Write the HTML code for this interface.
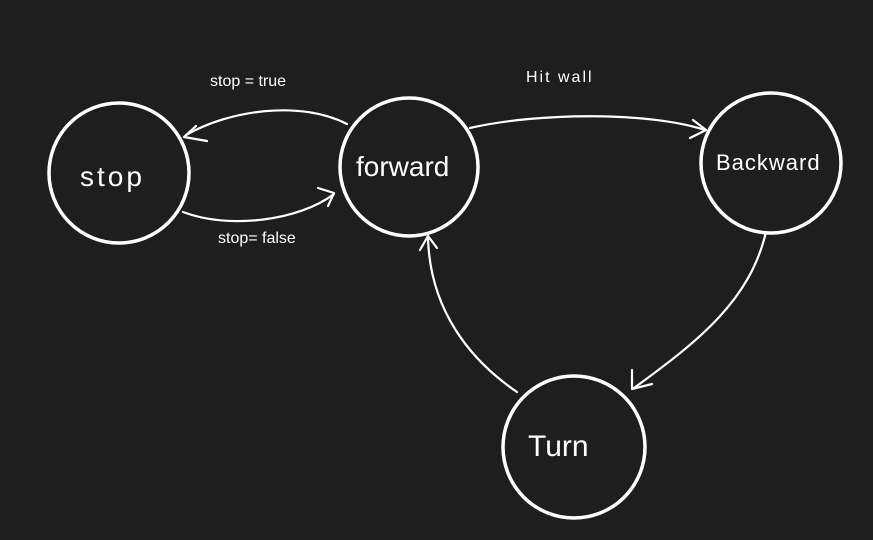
<!DOCTYPE html>
<html><head><style>
html,body{margin:0;padding:0;background:#1e1e1e;}
svg{display:block}
text{font-family:"Liberation Sans",sans-serif;fill:#fff;}
</style></head><body>
<svg width="873" height="540" viewBox="0 0 873 540">
<rect width="873" height="540" fill="#1e1e1e"/>
<g fill="none" stroke="#fff" stroke-width="3.5" stroke-linecap="round" stroke-linejoin="round">
<circle cx="119" cy="173" r="70"/>
<circle cx="409" cy="167" r="69"/>
<circle cx="771" cy="163" r="70"/>
<circle cx="574" cy="447" r="71"/>
</g>
<g fill="none" stroke="#fff" stroke-width="2.2" stroke-linecap="round" stroke-linejoin="round">
<path d="M347 124 C300 100 230 110 186 135"/>
<path d="M196 126 L184 137 L207 141"/>
<path d="M183 212 C230 230 300 220 334 194"/>
<path d="M318 188 L334 193 L328 206"/>
<path d="M470 128 C540 112 650 112 705 130"/>
<path d="M693 120 L706 130 L690 138"/>
<path d="M766 232 C750 300 700 340 634 388"/>
<path d="M632 370 L632 389 L652 384"/>
<path d="M517 392 C470 360 430 310 428 238"/>
<path d="M420 250 L428 236 L437 248"/>
</g>
<g font-size="28">
<text x="80" y="186" letter-spacing="3">stop</text>
<text x="356" y="176">forward</text>
<text x="716" y="170" font-size="22" letter-spacing="1">Backward</text>
<text x="528" y="456" font-size="30">Turn</text>
</g>
<g font-size="16">
<text x="210" y="86">stop = true</text>
<text x="218" y="243">stop= false</text>
<text x="526" y="82" letter-spacing="2">Hit wall</text>
</g>
</svg>
</body></html>
